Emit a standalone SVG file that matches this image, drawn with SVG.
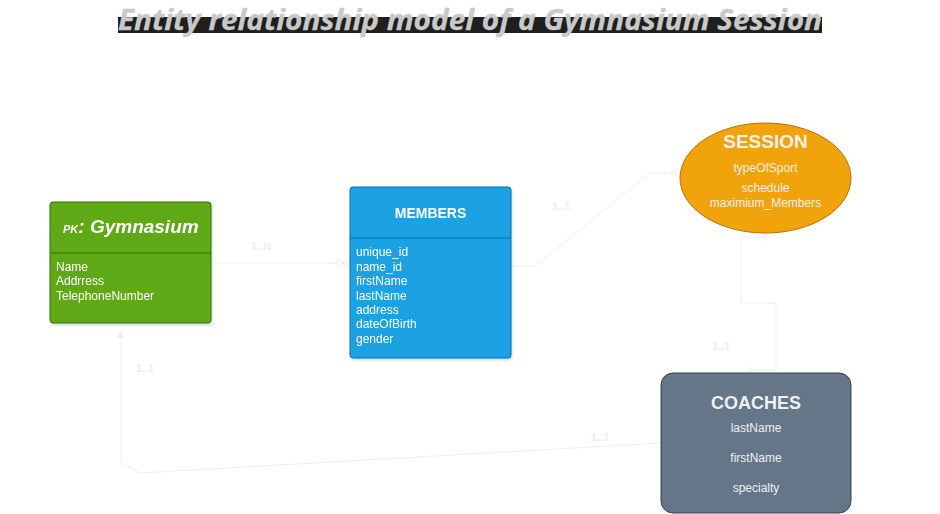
<svg xmlns="http://www.w3.org/2000/svg" width="940" height="514" viewBox="0 0 940 514">
  <style>
    .lbl { font-family: "Liberation Sans", Arial, sans-serif; font-size: 11px; font-weight: bold; fill: #eeeeee; }
    .attr { font-family: "Liberation Sans", Arial, sans-serif; font-size: 12px; fill: #ffffff; }
    .cattr { font-family: "Liberation Sans", Arial, sans-serif; font-size: 12px; fill: #f0f0f0; text-anchor: middle; }
    .conn { fill: none; stroke: #eeeeee; stroke-width: 1; }
  </style>
  <defs>
    <filter id="sh" x="-10%" y="-10%" width="130%" height="130%">
      <feDropShadow dx="1" dy="2" stdDeviation="1" flood-color="#000" flood-opacity="0.15"/>
    </filter>
    <marker id="arr" markerWidth="8" markerHeight="10" refX="7" refY="5" orient="auto" markerUnits="userSpaceOnUse">
      <path d="M0,1 L7,5 L0,9 Z" fill="#eeeeee"/>
    </marker>
  </defs>
  <rect width="940" height="514" fill="#ffffff"/>

  <g id="title">
    <rect x="118" y="17" width="704" height="16" fill="#1f1f1f"/>
    <text x="118" y="30" font-family="'Open Sans', 'Noto Sans', sans-serif" font-size="28" font-weight="bold" font-style="italic" fill="#c9c9c9" stroke="#c9c9c9" stroke-width="0.3" textLength="704" lengthAdjust="spacingAndGlyphs">Entity relationship model of a Gymnasium Session</text>
  </g>

  <g id="connectors">
    <!-- Gymnasium -> Members (1..N) -->
    <path class="conn" d="M215,263 L336,263"/>
    <circle cx="339" cy="263" r="2.8" fill="#ffffff" stroke="#eeeeee"/>
    <path class="conn" d="M342,263 L350,259 M342,263 L350,263 M342,263 L350,267"/>
    <text class="lbl" x="251" y="250">1..N</text>
    <!-- Members -> Session (1..1) -->
    <path class="conn" d="M511,266 L535,266 L650,173 L680,173"/>
    <path class="conn" d="M672,169 L672,177 M675,169 L675,177"/>
    <text class="lbl" x="552" y="210">1..1</text>
    <!-- Session -> Coaches (1..1) -->
    <path class="conn" d="M767,233 L767,237 L741,237 L741,303 L776,303 L776,370 L752,370 L752,373"/>
    <path class="conn" d="M763,233 L763,241 M766,233 L766,241"/>
    <path class="conn" d="M748,367 L748,374 M751,367 L751,374"/>
    <text class="lbl" x="712" y="350">1..1</text>
    <!-- Coaches -> Gymnasium (1..1) -->
    <path class="conn" d="M661,443 L140,473 L121,463 L121,331" marker-end="url(#arr)"/>
    <text class="lbl" x="136" y="372">1..1</text>
    <text class="lbl" x="591" y="441">1..1</text>
  </g>

  <g id="gymnasium" filter="url(#sh)">
    <rect x="50" y="202" width="161" height="121" rx="3" fill="#60a917" stroke="#2d7600"/>
    <line x1="50" y1="253" x2="211" y2="253" stroke="#2d7600"/>
    <text x="63" y="233" font-family="'Liberation Sans', Arial, sans-serif" font-weight="bold" font-style="italic" fill="#ffffff"><tspan font-size="11">PK</tspan><tspan font-size="19">: Gymnasium</tspan></text>
    <text class="attr" x="56" y="271">Name</text>
    <text class="attr" x="56" y="285">Addrress</text>
    <text class="attr" x="56" y="299.5">TelephoneNumber</text>
  </g>

  <g id="members" filter="url(#sh)">
    <rect x="350" y="187" width="161" height="171" rx="3" fill="#1ba1e2" stroke="#006eaf"/>
    <line x1="350" y1="238" x2="511" y2="238" stroke="#006eaf"/>
    <text x="430.5" y="218" text-anchor="middle" font-family="'Liberation Sans', Arial, sans-serif" font-size="14" font-weight="bold" fill="#ffffff">MEMBERS</text>
    <text class="attr" x="356" y="256">unique_id</text>
    <text class="attr" x="356" y="270.5">name_id</text>
    <text class="attr" x="356" y="285">firstName</text>
    <text class="attr" x="356" y="299.5">lastName</text>
    <text class="attr" x="356" y="314">address</text>
    <text class="attr" x="356" y="328">dateOfBirth</text>
    <text class="attr" x="356" y="342.5">gender</text>
  </g>

  <g id="session">
    <ellipse cx="765.5" cy="178" rx="85.5" ry="55" fill="#f0a30a" stroke="#bd7000"/>
    <text x="765.5" y="148" text-anchor="middle" font-family="'Liberation Sans', Arial, sans-serif" font-size="19" font-weight="bold" fill="#f0f0f0">SESSION</text>
    <text class="cattr" x="765.5" y="172">typeOfSport</text>
    <text class="cattr" x="765.5" y="192">schedule</text>
    <text class="cattr" x="765.5" y="207">maximium_Members</text>
  </g>

  <g id="coaches">
    <rect x="661" y="373" width="190" height="140" rx="12" fill="#647687" stroke="#314354"/>
    <text x="756" y="409" text-anchor="middle" font-family="'Liberation Sans', Arial, sans-serif" font-size="18" font-weight="bold" fill="#f0f0f0">COACHES</text>
    <text class="cattr" x="756" y="432">lastName</text>
    <text class="cattr" x="756" y="462">firstName</text>
    <text class="cattr" x="756" y="492">specialty</text>
  </g>
</svg>
